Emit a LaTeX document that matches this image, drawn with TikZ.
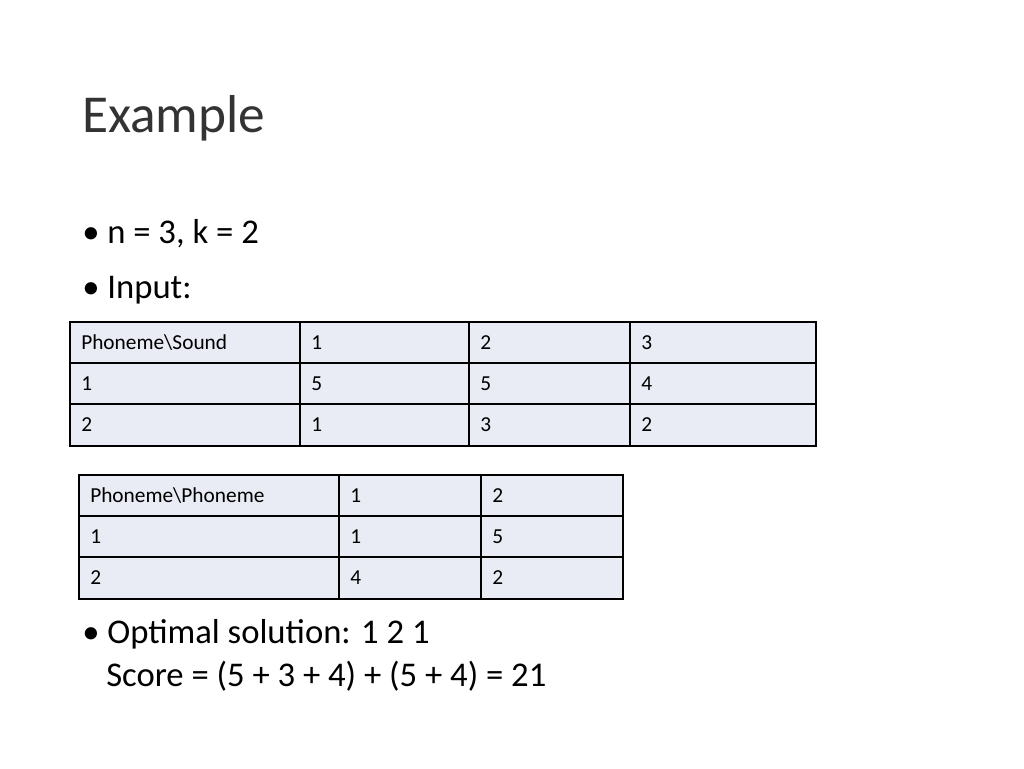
\documentclass[tikz,border=0pt]{standalone}
\usepackage{fontspec}
\setmainfont{Carlito}
\definecolor{cellbg}{HTML}{E9EBF5}
\definecolor{txt}{HTML}{000000}
\begin{document}
\begin{tikzpicture}[x=0.75pt,y=-0.75pt,
  cell/.style={draw=black,line width=0.9pt,fill=cellbg,inner sep=0pt,anchor=north west},
  celltext/.style={anchor=west,font=\fontsize{16}{16}\selectfont,inner sep=0pt},
  title/.style={anchor=base west,font=\fontsize{40}{40}\selectfont,text=black!80,inner sep=0pt},
  bullet/.style={anchor=base west,font=\fontsize{26}{30}\selectfont,inner sep=0pt,align=left}]
\useasboundingbox (0,0) rectangle (1024,768);
\node[title] (t) at (82,132) {Example};
\node[bullet] (b1) at (82,243) {• n = 3, k = 2};
\node[bullet] (b2) at (82,298) {• Input:};
% table 1
\foreach \r/\ya/\yb/\a/\b/\c/\d in {0/322/363/Phoneme\textbackslash Sound/1/2/3, 1/363/404/1/5/5/4, 2/404/446/2/1/3/2}{
  \foreach \col/\xa/\xb/\t in {0/70/300/\a, 1/300/469/\b, 2/469/630/\c, 3/630/816/\d}{
    \draw[cell] (\xa,\ya) rectangle (\xb,\yb);
    \node[celltext] (ta\r\col) at (\xa+11,{(\ya+\yb)/2}) {\t};
  }
}
% table 2
\foreach \r/\ya/\yb/\a/\b/\c in {0/475/516/Phoneme\textbackslash Phoneme/1/2, 1/516/557/1/1/5, 2/557/599/2/4/2}{
  \foreach \col/\xa/\xb/\t in {0/79/339/\a, 1/339/481/\b, 2/481/623/\c}{
    \draw[cell] (\xa,\ya) rectangle (\xb,\yb);
    \node[celltext] (tb\r\col) at (\xa+11,{(\ya+\yb)/2}) {\t};
  }
}
\node[bullet] (b3) at (82,643) {• Optimal solution: 1 2 1};
\node[bullet] (b4) at (106,686) {Score = (5 + 3 + 4) + (5 + 4) = 21};
\end{tikzpicture}
\end{document}
